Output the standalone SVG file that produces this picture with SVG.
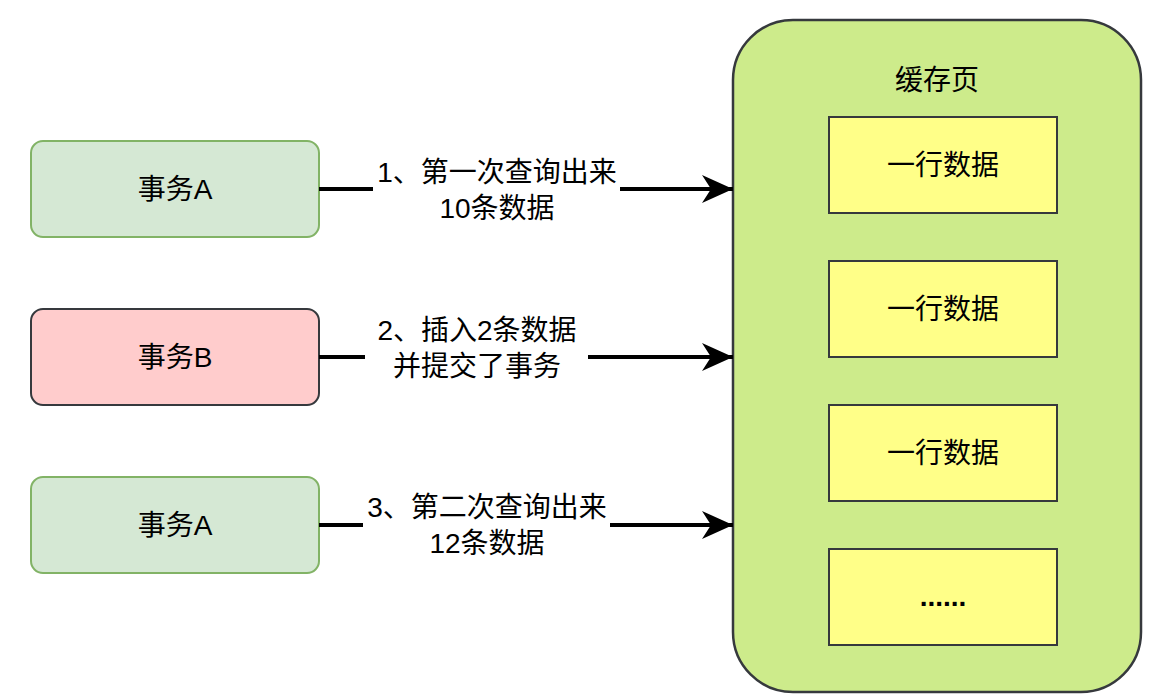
<svg xmlns="http://www.w3.org/2000/svg" width="1164" height="698" viewBox="0 0 1164 698">
<style>
text{font-family:"Liberation Sans","Noto Sans CJK SC",sans-serif;font-size:28px;fill:#000;text-anchor:middle}
.ta{fill:#d5e8d4;stroke:#82b366;stroke-width:2}
.tb{fill:#ffcccc;stroke:#36393d;stroke-width:2}
.row{fill:#ffff88;stroke:#36393d;stroke-width:2}
.edge{fill:none;stroke:#000;stroke-width:4}
</style>
<defs>
<marker id="arr" markerUnits="userSpaceOnUse" markerWidth="34" markerHeight="32" viewBox="0 0 34 32" refX="33" refY="16" orient="auto">
<path d="M33,16 L2,2 L11,16 L2,30 Z" fill="#000"/>
</marker>
</defs>
<rect width="1164" height="698" fill="#fff"/>
<g id="cache-page">
<rect x="733" y="20" width="408" height="672" rx="60" ry="60" fill="#cdeb8b" stroke="#36393d" stroke-width="2.5"/>
<text x="937" y="90">缓存页</text>
</g>
<g id="row1"><rect class="row" x="829" y="117" width="228" height="96"/><text x="943" y="175">一行数据</text></g>
<g id="row2"><rect class="row" x="829" y="261" width="228" height="96"/><text x="943" y="319">一行数据</text></g>
<g id="row3"><rect class="row" x="829" y="405" width="228" height="96"/><text x="943" y="463">一行数据</text></g>
<g id="row4"><rect class="row" x="829" y="549" width="228" height="96"/><text x="943" y="606" font-weight="bold">......</text></g>
<g id="txA1"><rect class="ta" x="31" y="141" width="288" height="96" rx="12"/><text x="175" y="199">事务A</text></g>
<g id="txB"><rect class="tb" x="31" y="309" width="288" height="96" rx="12"/><text x="175" y="367">事务B</text></g>
<g id="txA2"><rect class="ta" x="31" y="477" width="288" height="96" rx="12"/><text x="175" y="535">事务A</text></g>
<g id="connectors">
<path class="edge" d="M319,189 H373"/>
<path class="edge" d="M620,189 H733" marker-end="url(#arr)"/>
<text x="497" y="182">1、第一次查询出来</text>
<text x="497" y="218">10条数据</text>
<path class="edge" d="M319,357 H365"/>
<path class="edge" d="M588,357 H733" marker-end="url(#arr)"/>
<text x="477" y="340">2、插入2条数据</text>
<text x="477" y="376">并提交了事务</text>
<path class="edge" d="M319,525 H363"/>
<path class="edge" d="M610,525 H733" marker-end="url(#arr)"/>
<text x="487" y="517">3、第二次查询出来</text>
<text x="487" y="553">12条数据</text>
</g>
</svg>
